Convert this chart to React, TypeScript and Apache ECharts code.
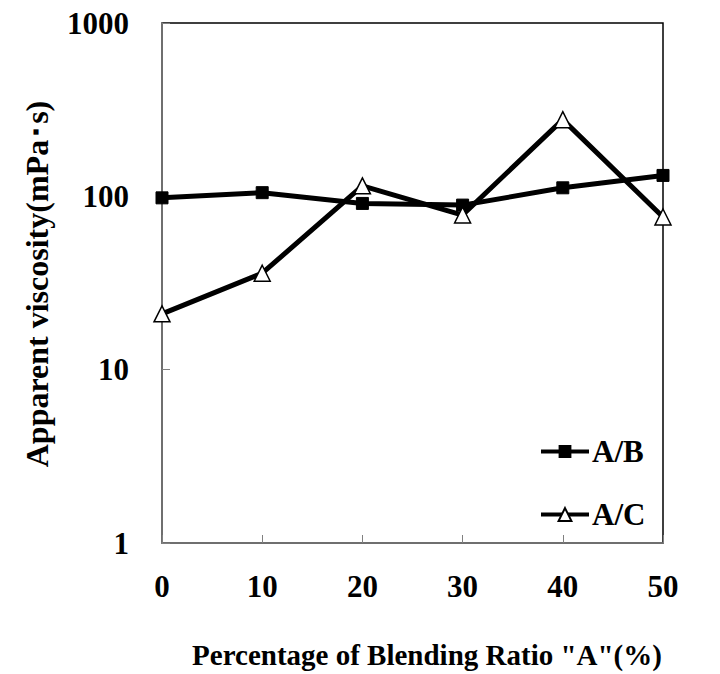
import React, { useEffect, useRef } from "react";
import * as echarts from "echarts";

const categories = ["0", "10", "20", "30", "40", "50"];
const seriesAB = [98, 105, 91, 89, 112, 132];
const seriesAC = [21, 36, 115, 78, 277, 76];
const yTicks = [1, 10, 100, 1000];
const xTitle = 'Percentage of Blending Ratio "A"(%)';
const yTitle = "Apparent viscosity(mPa･s)";

export default function App() {
  const ref = useRef<HTMLDivElement>(null);
  useEffect(() => {
    const chart = echarts.init(ref.current!, null, { renderer: "svg" });
    const font = "Liberation Serif";
    chart.setOption({
      animation: false,
      backgroundColor: "#fff",
      grid: {
        left: 162,
        right: 57,
        top: 23,
        bottom: 131,
        show: true,
        borderColor: "#000",
        borderWidth: 1.5,
      },
      legend: {
        orient: "vertical",
        left: 534,
        top: 431,
        itemWidth: 48,
        itemHeight: 16,
        itemGap: 32,
        textStyle: { fontFamily: font, fontWeight: "bold", fontSize: 31, color: "#000", padding: [0, 0, 0, -2] },
        data: [
          { name: "A/B", lineStyle: { width: 4 } },
          { name: "A/C", lineStyle: { width: 4 } },
        ],
      },
      graphic: [
        {
          type: "text",
          x: 427,
          y: 655,
          style: {
            text: xTitle,
            fontFamily: font,
            fontWeight: "bold",
            fontSize: 29,
            fill: "#000",
            align: "center",
            verticalAlign: "middle",
          },
        },
        {
          type: "text",
          x: 37,
          y: 284,
          rotation: Math.PI / 2,
          style: {
            text: yTitle,
            fontFamily: font,
            fontWeight: "bold",
            fontSize: 32,
            fill: "#000",
            align: "center",
            verticalAlign: "middle",
          },
        },
      ],
      xAxis: {
        type: "category",
        data: categories,
        boundaryGap: false,
        axisLine: { lineStyle: { color: "#808080", width: 1.5 } },
        axisTick: { inside: true, length: 8, lineStyle: { color: "#808080" } },
        axisLabel: { margin: 28, fontFamily: font, fontWeight: "bold", fontSize: 31, color: "#000" },
        splitLine: { show: false },
      },
      yAxis: {
        type: "log",
        logBase: 10,
        min: yTicks[0],
        max: yTicks[yTicks.length - 1],
        axisLine: { show: true, lineStyle: { color: "#808080", width: 1.5 } },
        axisTick: { show: true, inside: true, length: 8, lineStyle: { color: "#808080" } },
        minorTick: { show: false },
        axisLabel: {
          margin: 33,
          fontFamily: font,
          fontWeight: "bold",
          fontSize: 31,
          color: "#000",
          formatter: (v: number) => String(Math.round(v)),
        },
        splitLine: { show: false },
      },
      series: [
        {
          name: "A/B",
          type: "line",
          data: seriesAB,
          symbol: "rect",
          symbolSize: 12,
          itemStyle: { color: "#000", borderColor: "#000" },
          lineStyle: { color: "#000", width: 5 },
          z: 3,
        },
        {
          name: "A/C",
          type: "line",
          data: seriesAC,
          symbol: "triangle",
          symbolSize: 16,
          itemStyle: { color: "#fff", borderColor: "#000", borderWidth: 1.5 },
          lineStyle: { color: "#000", width: 5 },
          z: 4,
        },
      ],
    });
    return () => chart.dispose();
  }, []);
  return <div ref={ref} style={{ width: 720, height: 674, position: "absolute", left: 0, top: 0 }} />;
}
